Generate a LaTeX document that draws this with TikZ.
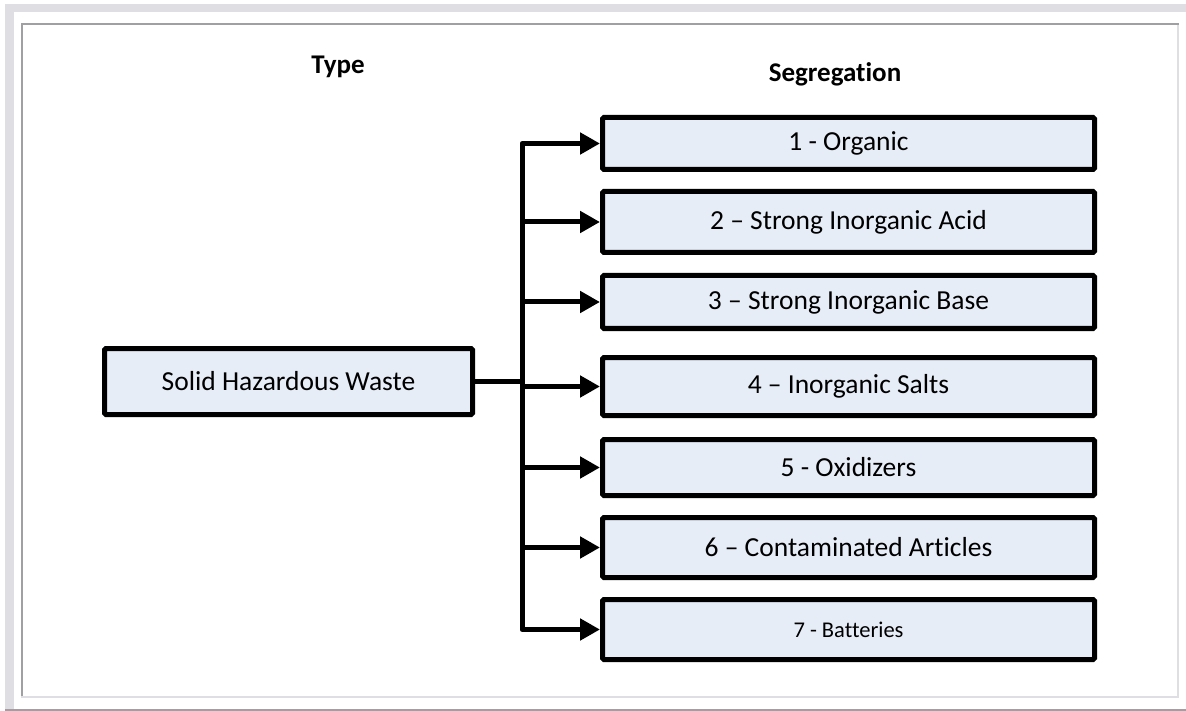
\documentclass[tikz,border=0pt]{standalone}
\usepackage{fontspec}
\setmainfont[Ligatures=NoCommon]{Carlito}
\usetikzlibrary{arrows.meta}
\definecolor{boxfill}{RGB}{230,237,247}
\definecolor{framelight}{RGB}{222,222,227}
\definecolor{framedark}{RGB}{160,160,164}
\begin{document}
\begin{tikzpicture}[x=1pt,y=-1pt,
  box/.style={draw=black,line width=5pt,fill=boxfill,rounded corners=1.5pt,
    inner sep=0pt,minimum width=492pt,align=center,
    font=\fontsize{27.5pt}{31pt}\selectfont},
  srcbox/.style={box,minimum width=368pt,minimum height=66pt},
  title/.style={font=\bfseries\fontsize{27pt}{31pt}\selectfont,anchor=base,inner sep=0pt},
  conn/.style={line width=5pt,line join=round},
  tip/.style={-{Triangle[length=20pt,width=21pt]}}]
\useasboundingbox (0,0) rectangle (1186,711);
% frame
\fill[framelight] (5,4) rectangle (1186,12);
\fill[framelight] (5,4) rectangle (14,709);
\fill[framedark] (21,23) rectangle (1179,25);
\fill[framedark] (21,23) rectangle (23,697);
\fill[framelight] (1177,25) rectangle (1179,697);
\fill[framelight] (21,696) rectangle (1179,698);
\fill[framedark] (5,709) rectangle (1186,711);
% titles
\node[title] (ttype) at (338,74) {Type};
\node[title] (tseg) at (835,82) {Segregation};
% nodes
\node[srcbox] (src) at (288.5,381.5) {Solid Hazardous Waste};
\node[box,minimum height=52pt] (b1) at (848.5,143.5) {1 - Organic};
\node[box,minimum height=61pt] (b2) at (848.5,222) {2 – Strong Inorganic Acid};
\node[box,minimum height=53pt] (b3) at (848.5,302) {3 – Strong Inorganic Base};
\node[box,minimum height=58pt] (b4) at (848.5,386.5) {4 – Inorganic Salts};
\node[box,minimum height=56pt] (b5) at (848.5,467.5) {5 - Oxidizers};
\node[box,minimum height=60pt] (b6) at (848.5,547.5) {6 – Contaminated Articles};
\node[box,minimum height=60pt,font=\fontsize{22.5pt}{26pt}\selectfont] (b7) at (848.5,629.5) {7 - Batteries};
% connectors
\coordinate (j) at (522,381.5);
\draw[conn] (src.east) -- (j);
\draw[conn,{Triangle[length=20pt,width=21pt]}-{Triangle[length=20pt,width=21pt]}]
  (b1.west) -- (b1.west -| j) -- (b7.west -| j) -- (b7.west);
\foreach \b in {b2,b3,b4,b5,b6}
  \draw[conn,tip] (\b.west -| j) -- (\b.west);
\end{tikzpicture}
\end{document}
